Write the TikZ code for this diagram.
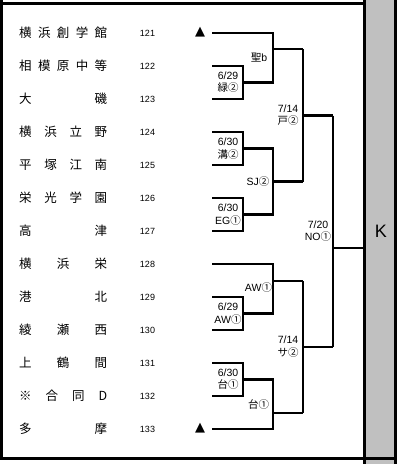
\documentclass[tikz,border=0pt]{standalone}
\usepackage{fontspec}
\setmainfont{Liberation Sans}
\newfontfamily\cjk{Noto Sans CJK JP}
\newfontfamily\dejavu{DejaVu Sans}
\definecolor{colgrey}{RGB}{192,192,192}
\begin{document}
\begin{tikzpicture}[x=1pt,y=-1pt,
  br/.style={line width=2.6pt,line join=miter,line cap=butt},
  frame/.style={line width=3pt},
  team/.style={anchor=west,inner sep=0pt,font=\cjk\fontsize{12.5}{13}\selectfont},
  num/.style={inner sep=0pt,font=\fontsize{9}{10}\selectfont},
  tri/.style={inner sep=0pt,font=\dejavu\fontsize{13}{14}\selectfont},
  lab/.style={inner sep=0pt,align=center,font=\fontsize{10.5}{12.5}\selectfont}]
\useasboundingbox (0,0) rectangle (400,464);
% right grey column and frame
\fill[colgrey] (364.5,0) rectangle (395.5,464);
\draw[frame] (364.5,0) -- (364.5,464);
\draw[frame] (395.5,0) -- (395.5,464);
\draw[frame] (0,3.5) -- (364.5,3.5);
\draw[frame] (1.5,0) -- (1.5,460);
\draw[frame] (0,458.5) -- (397,458.5);
\node[inner sep=0pt,font=\fontsize{18}{20}\selectfont] (K) at (381,231) {K};
% teams
\node[team] (t121) at (19,33) {\makebox[88pt][s]{横\hfill 浜\hfill 創\hfill 学\hfill 館}};
\node[team] (t122) at (19,66) {\makebox[88pt][s]{相\hfill 模\hfill 原\hfill 中\hfill 等}};
\node[team] (t123) at (19,99) {\makebox[88pt][s]{大\hfill 磯}};
\node[team] (t124) at (19,132) {\makebox[88pt][s]{横\hfill 浜\hfill 立\hfill 野}};
\node[team] (t125) at (19,165) {\makebox[88pt][s]{平\hfill 塚\hfill 江\hfill 南}};
\node[team] (t126) at (19,198) {\makebox[88pt][s]{栄\hfill 光\hfill 学\hfill 園}};
\node[team] (t127) at (19,231) {\makebox[88pt][s]{高\hfill 津}};
\node[team] (t128) at (19,264) {\makebox[88pt][s]{横\hfill 浜\hfill 栄}};
\node[team] (t129) at (19,297) {\makebox[88pt][s]{港\hfill 北}};
\node[team] (t130) at (19,330) {\makebox[88pt][s]{綾\hfill 瀬\hfill 西}};
\node[team] (t131) at (19,363) {\makebox[88pt][s]{上\hfill 鶴\hfill 間}};
\node[team] (t132) at (19,396) {\makebox[88pt][s]{※\hfill 合\hfill 同\hfill D}};
\node[team] (t133) at (19,429) {\makebox[88pt][s]{多\hfill 摩}};
% numbers
\foreach \n [count=\i from 0] in {121,...,133}
  \node[num] (n\n) at (147.5,33+33*\i) {\n};
% triangles
\node[tri] (a1) at (200,32.5) {▲};
\node[tri] (a2) at (200,428.5) {▲};
% entry coordinates
\foreach \i in {0,...,12} \coordinate (e\i) at (212,33+33*\i);
\coordinate (b12) at (243,82.5);   \coordinate (j0) at (273,82.5);
\coordinate (b34) at (243,148.5);  \coordinate (c34) at (273,148.5);
\coordinate (b56) at (243,214.5);  \coordinate (c56) at (273,214.5);
\coordinate (b89) at (243,313.5);  \coordinate (c89) at (273,313.5);
\coordinate (b1011) at (243,379.5);\coordinate (c1011) at (273,379.5);
\coordinate (q1) at (273,49);   \coordinate (k1) at (303,49);
\coordinate (m2) at (273,181.5);\coordinate (k2) at (303,181.5);
\coordinate (q3) at (273,281);  \coordinate (k3) at (303,281);
\coordinate (q4) at (273,413);  \coordinate (k4) at (303,413);
\coordinate (s1) at (303,115.5);\coordinate (f1) at (333,115.5);
\coordinate (s2) at (303,347);  \coordinate (f2) at (333,347);
\coordinate (g) at (333,248);   \coordinate (gk) at (364.5,248);
% round 1
\draw[br] (e1) -| (b12) |- (e2);
\draw[br] (e3) -| (b34) |- (e4);
\draw[br] (e5) -| (b56) |- (e6);
\draw[br] (e8) -| (b89) |- (e9);
\draw[br] (e10) -| (b1011) |- (e11);
% round 2
\draw[br] (e0) -| (j0) -- (b12);
\draw[br] (b34) -- (c34) -- (c56) -- (b56);
\draw[br] (e7) -| (c89) -- (b89);
\draw[br] (b1011) -- (c1011) |- (e12);
\draw[br] (q1) -- (k1);
\draw[br] (m2) -- (k2);
\draw[br] (q3) -- (k3);
\draw[br] (q4) -- (k4);
% round 3
\draw[br] (k1) -- (k2);
\draw[br] (k3) -- (k4);
\draw[br] (s1) -- (f1);
\draw[br] (s2) -- (f2);
% final
\draw[br] (f1) -- (f2);
\draw[br] (g) -- (gk);
% labels
\node[lab] (l1) at (228,82) {6/29\\{\cjk 緑②}};
\node[lab] (l2) at (259,58) {{\cjk 聖}b};
\node[lab] (l3) at (288,115) {7/14\\{\cjk 戸②}};
\node[lab] (l4) at (228,148.5) {6/30\\{\cjk 溝②}};
\node[lab] (l5) at (258,182) {SJ{\cjk ②}};
\node[lab] (l6) at (228,214.5) {6/30\\EG{\cjk ①}};
\node[lab] (l7) at (318,231) {7/20\\NO{\cjk ①}};
\node[lab] (l8) at (258.5,288) {AW{\cjk ①}};
\node[lab] (l9) at (228,313.5) {6/29\\AW{\cjk ①}};
\node[lab] (l10) at (288,346.5) {7/14\\{\cjk サ②}};
\node[lab] (l11) at (228,379) {6/30\\{\cjk 台①}};
\node[lab] (l12) at (258.5,405) {{\cjk 台①}};
\end{tikzpicture}
\end{document}
